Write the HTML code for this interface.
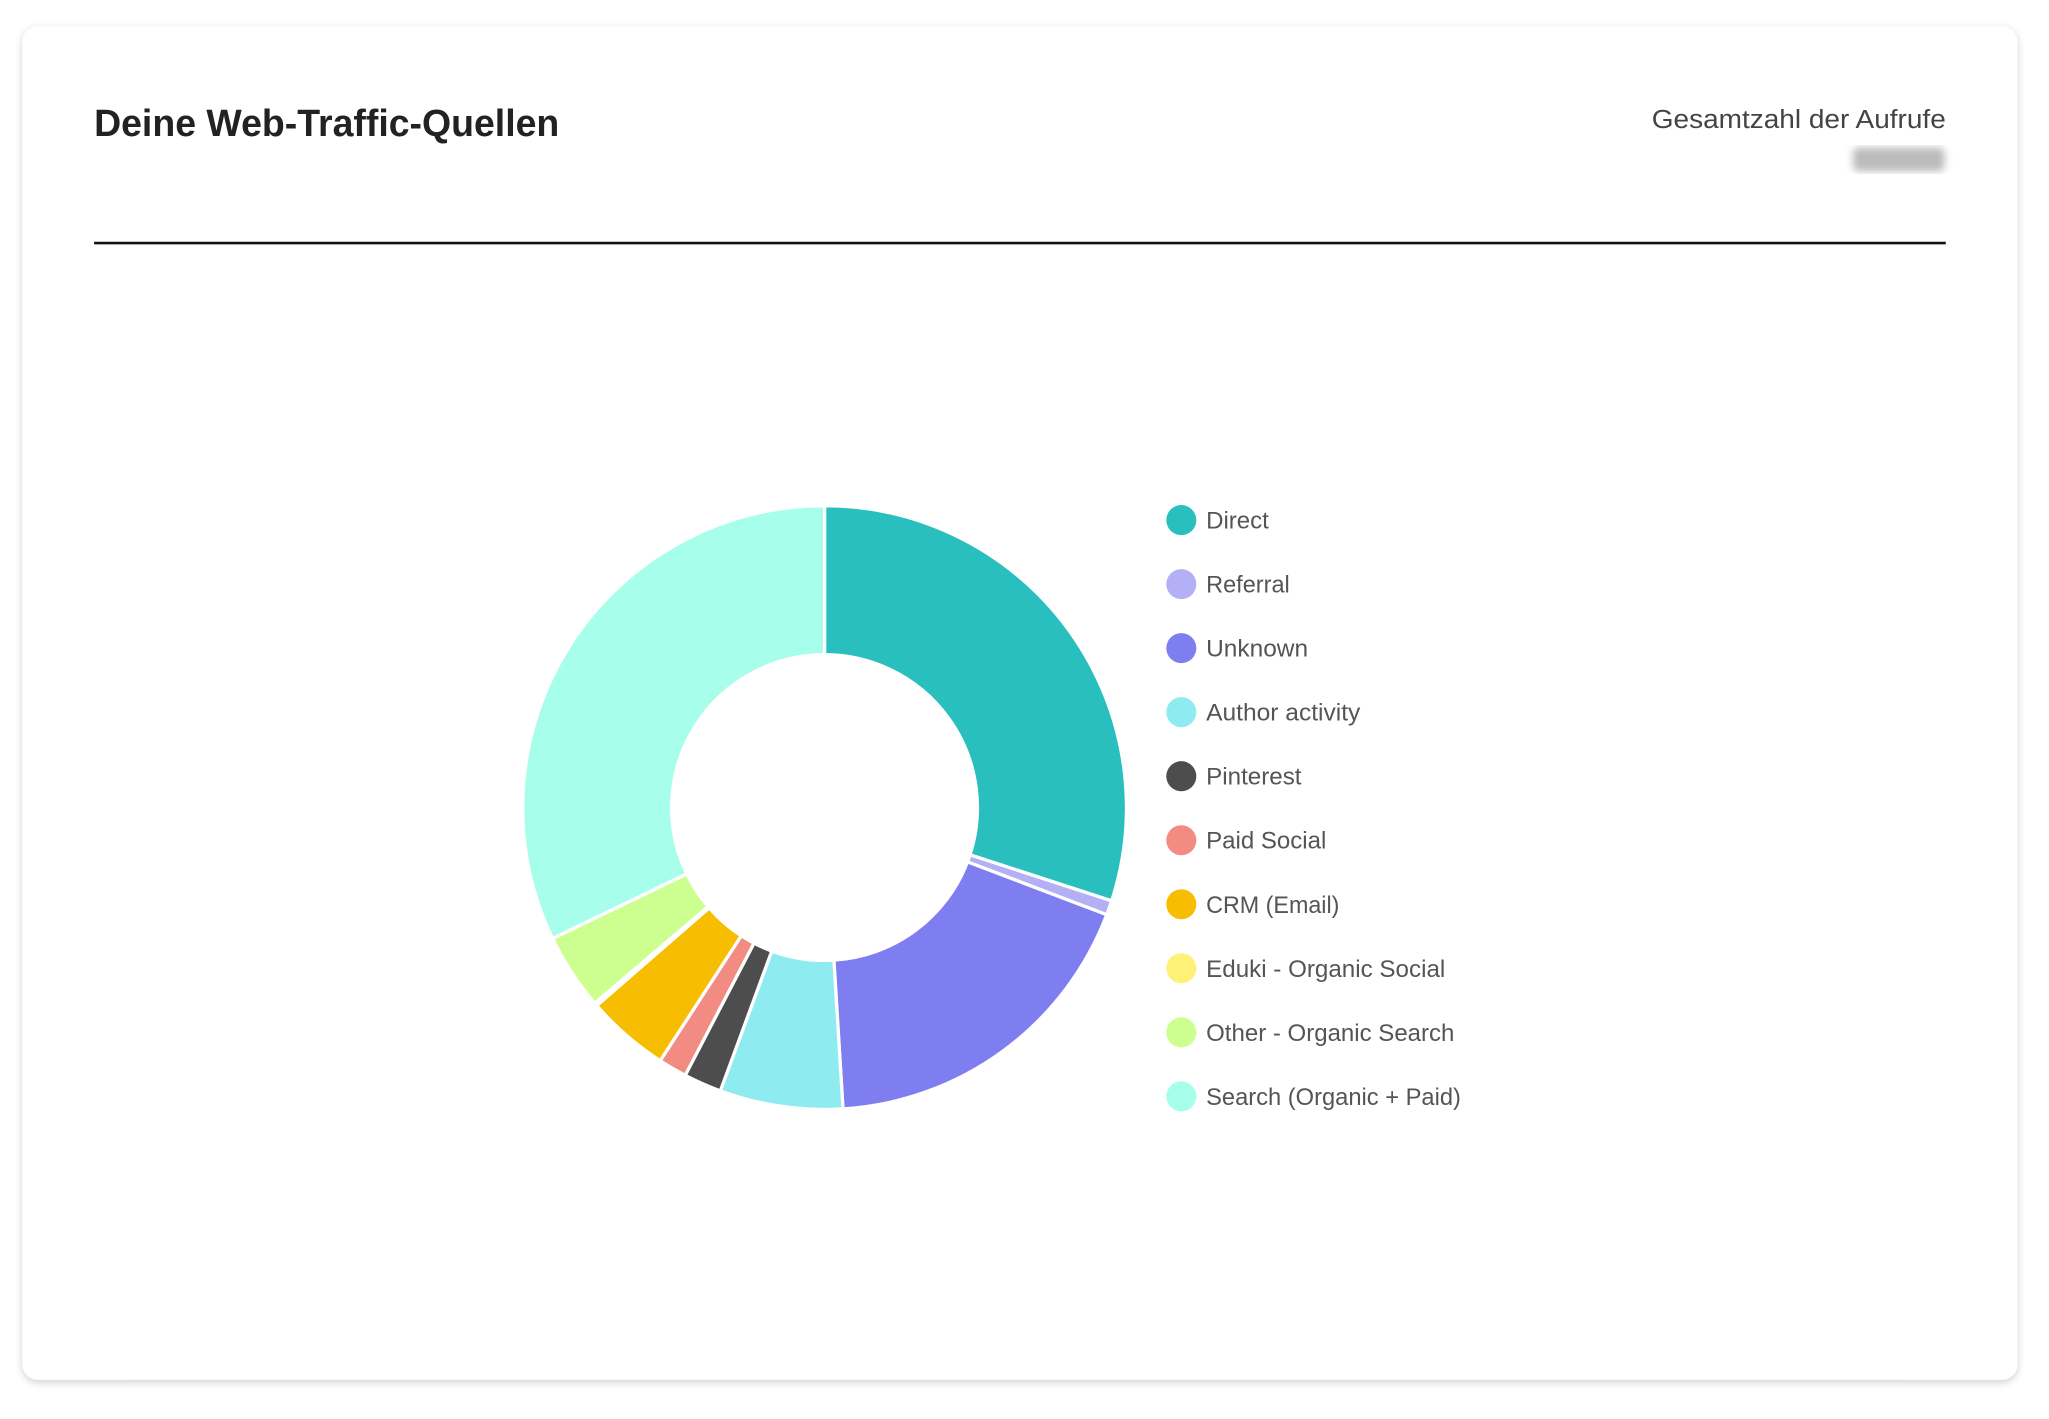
<!DOCTYPE html>
<html><head><meta charset="utf-8"><style>
html,body{margin:0;padding:0;background:#fff;width:2049px;height:1419px;overflow:hidden}
svg{display:block}
text{font-family:"Liberation Sans",sans-serif}
</style></head><body>
<svg width="2049" height="1419" viewBox="0 0 1568 1085.9" preserveAspectRatio="none" xmlns="http://www.w3.org/2000/svg">
<defs>
<filter id="sh" x="-5%" y="-5%" width="110%" height="110%"><feGaussianBlur stdDeviation="3"/></filter>
<filter id="bl"><feGaussianBlur stdDeviation="3"/></filter>
</defs>
<rect x="17" y="22" width="1527" height="1036" rx="12" fill="#000" opacity="0.18" filter="url(#sh)"/>
<rect x="17" y="20" width="1527" height="1036" rx="12" fill="#fff"/>
<text x="72" y="104" font-size="29" font-weight="bold" fill="#222" textLength="356" lengthAdjust="spacingAndGlyphs">Deine Web-Traffic-Quellen</text>
<text x="1489" y="98" font-size="20" fill="#444" text-anchor="end" textLength="225" lengthAdjust="spacingAndGlyphs">Gesamtzahl der Aufrufe</text>
<rect x="1418" y="113" width="70" height="18" rx="4" fill="#bbb" filter="url(#bl)"/>
<rect x="72" y="185" width="1417" height="2" fill="#111"/>
<g id="donut" stroke="#fff" stroke-width="2.5" stroke-linejoin="round"></g>
<g id="legend"></g>
</svg>
<script>
var cx=631,cy=618,R=231,r=117;
var sl=[[0,108,"#2abfbf"],[108,110.8,"#b3b0f5"],[110.8,176.5,"#7f7ef0"],[176.5,200.2,"#8eecf0"],[200.2,207.5,"#4d4d4d"],[207.5,213,"#f28b82"],[213,229,"#f7bd00"],[229,229.6,"#fff176"],[229.6,244.3,"#ccff90"],[244.3,360,"#a7ffeb"]];
function p(a,rad){var t=a*Math.PI/180;return (cx+rad*Math.sin(t)).toFixed(2)+","+(cy-rad*Math.cos(t)).toFixed(2);}
var g=document.getElementById("donut"),h="";
sl.forEach(function(s){var l=(s[1]-s[0])>180?1:0;
h+='<path fill="'+s[2]+'" d="M'+p(s[0],R)+' A'+R+','+R+' 0 '+l+' 1 '+p(s[1],R)+' L'+p(s[1],r)+' A'+r+','+r+' 0 '+l+' 0 '+p(s[0],r)+' Z"/>';});
g.innerHTML=h;
var lg=[["Direct","#2abfbf",48],["Referral","#b3b0f5",64],["Unknown","#7f7ef0",78],["Author activity","#8eecf0",118],["Pinterest","#4d4d4d",73],["Paid Social","#f28b82",92],["CRM (Email)","#f7bd00",102],["Eduki - Organic Social","#fff176",183],["Other - Organic Search","#ccff90",190],["Search (Organic + Paid)","#a7ffeb",195]];
var L="";
lg.forEach(function(e,i){var y=398+49*i;
L+='<circle cx="904" cy="'+y+'" r="11.5" fill="'+e[1]+'"/><text x="923" y="'+(y+6.5)+'" font-size="18.5" fill="#555" textLength="'+e[2]+'" lengthAdjust="spacingAndGlyphs">'+e[0]+'</text>';});
document.getElementById("legend").innerHTML=L;
</script>
</body></html>
